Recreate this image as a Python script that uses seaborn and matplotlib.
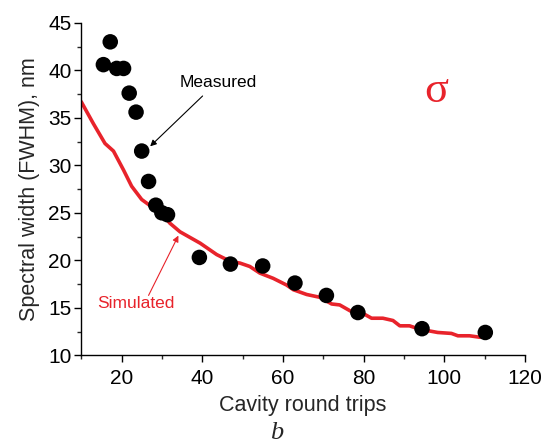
import matplotlib
matplotlib.use("Agg")
import matplotlib.pyplot as plt
from matplotlib.ticker import MultipleLocator
import seaborn as sns
import pandas as pd

# Measured spectral width vs round trips
meas_trips = [15.5, 17.2, 18.8, 20.5, 21.9, 23.6, 25.0, 26.7, 28.5, 30.0, 31.4,
              39.3, 47.0, 55.0, 63.0, 70.8, 78.6, 94.5, 110.2]
meas_width = [40.6, 43.0, 40.2, 40.2, 37.6, 35.6, 31.5, 28.3, 25.8, 25.0, 24.8,
              20.3, 19.6, 19.4, 17.6, 16.3, 14.5, 12.8, 12.4]

# Simulated curve
sim_trips = [10.0, 13.0, 15.9, 18.0, 20.5, 22.5, 25.0, 27.9, 31.0, 32.0, 34.5,
             39.5, 43.6, 46.9, 49.4, 51.8, 54.3, 57.6, 60.9, 62.6, 65.9, 69.2,
             72.1, 74.1, 77.0, 79.9, 82.0, 84.8, 87.3, 89.0, 91.4, 93.9, 98.4,
             101.8, 103.4, 106.3, 108.8, 109.5]
sim_width = [36.7, 34.4, 32.3, 31.5, 29.5, 27.8, 26.4, 25.5, 24.4, 23.9, 23.0,
             21.8, 20.6, 19.9, 19.7, 19.35, 18.65, 18.1, 17.4, 16.9, 16.4, 16.1,
             15.4, 15.3, 14.6, 14.4, 13.9, 13.9, 13.66, 13.1, 13.1, 12.75, 12.4,
             12.3, 12.05, 12.05, 11.9, 12.0]

x_ticks = [20, 40, 60, 80, 100, 120]
y_ticks = [10, 15, 20, 25, 30, 35, 40, 45]

meas = pd.DataFrame({"trips": meas_trips, "width": meas_width})
sim = pd.DataFrame({"trips": sim_trips, "width": sim_width})

sns.set_style("ticks")
plt.rcParams["font.family"] = ["Liberation Sans", "DejaVu Sans"]

red = "#e8232b"
fig = plt.figure(figsize=(5.45, 4.48), dpi=100)
ax = fig.add_axes([0.149, 0.207, 0.814, 0.742])

sns.lineplot(data=sim, x="trips", y="width", ax=ax, color=red, linewidth=2.6,
             sort=False, estimator=None, zorder=2)
sns.scatterplot(data=meas, x="trips", y="width", ax=ax, color="black", s=125,
                edgecolor="none", zorder=3)

ax.set_xlim(10, 120)
ax.set_ylim(10, 45)
ax.set_xticks(x_ticks)
ax.set_yticks(y_ticks)
ax.xaxis.set_minor_locator(MultipleLocator(10))
ax.yaxis.set_minor_locator(MultipleLocator(2.5))
ax.tick_params(which="major", direction="out", length=5, width=1, labelsize=15,
               colors="black", pad=2)
ax.tick_params(axis="x", which="major", pad=5)
ax.tick_params(which="minor", direction="out", length=3, width=1)
for side in ("top", "right"):
    ax.spines[side].set_visible(False)
for side in ("left", "bottom"):
    ax.spines[side].set_linewidth(1.0)
    ax.spines[side].set_color("black")

ax.set_xlabel("Cavity round trips", fontsize=15.5, labelpad=5)
ax.set_ylabel("Spectral width (FWHM), nm", fontsize=15.5, labelpad=6)

# Labels with pointer arrows
ax.text(43.9, 38.7, "Measured", fontsize=12.5, ha="center", va="center",
        color="black")
ax.annotate("", xy=(27.1, 32.0), xytext=(40.1, 37.3),
            arrowprops=dict(arrowstyle="-|>", color="black", lw=0.8,
                            mutation_scale=9, shrinkA=0, shrinkB=0))
ax.text(23.6, 15.4, "Simulated", fontsize=12.5, ha="center", va="center",
        color=red)
ax.annotate("", xy=(34.1, 22.6), xytext=(26.7, 16.3),
            arrowprops=dict(arrowstyle="-|>", color=red, lw=0.8,
                            mutation_scale=9, shrinkA=0, shrinkB=0))

ax.text(98.0, 37.8, "σ", fontsize=32, color=red, ha="center", va="center",
        family=["Liberation Serif", "DejaVu Serif"])
fig.text(0.507, 0.008, "b", fontsize=19, style="italic", ha="center",
         va="bottom", family=["Liberation Serif", "DejaVu Serif"])

fig.savefig("out.png", dpi=100)
